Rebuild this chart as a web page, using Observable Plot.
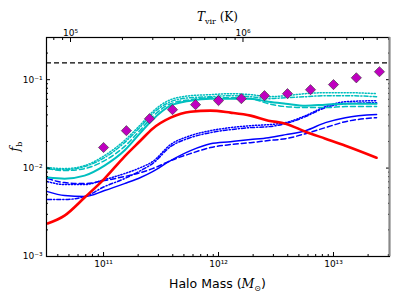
<!DOCTYPE html>
<html><head><meta charset="utf-8">
<script src="https://cdn.jsdelivr.net/npm/d3@7"></script>
<script src="https://cdn.jsdelivr.net/npm/@observablehq/plot@0.6"></script>
<style>html,body{margin:0;padding:0;background:#fff;} svg{display:block}</style>
</head><body><div id="chart"></div>
<script>
// Halo mass grid (Msun) shared by the model curves
const mass = [3.26e10, 4.58e10, 6.84e10, 1.02e11, 1.52e11, 2.10e11, 2.67e11, 3.83e11, 5.71e11, 8.51e11, 1.27e12, 1.90e12, 2.72e12, 3.83e12, 5.71e12, 8.51e12, 1.27e13, 2.37e13];

const redSolid   = [0.00236, 0.00290, 0.00464, 0.00760, 0.0135, 0.0205, 0.0279, 0.0372, 0.0434, 0.0447, 0.0424, 0.0392, 0.0344, 0.0318, 0.0258, 0.0215, 0.0179, 0.0131];

const cyanSolid   = [0.00782, 0.00760, 0.00822, 0.01067, 0.01578, 0.0252, 0.0353, 0.0508, 0.0579, 0.0610, 0.0610, 0.0610, 0.0563, 0.0535, 0.0508, 0.0522, 0.0535, 0.0535];
const cyanDashed  = [0.00986, 0.00937, 0.00986, 0.01216, 0.0175, 0.0272, 0.0382, 0.0535, 0.0594, 0.0626, 0.0626, 0.0610, 0.0535, 0.0496, 0.0483, 0.0483, 0.0496, 0.0496];
const cyanDotted  = [0.01013, 0.00986, 0.01067, 0.01384, 0.0205, 0.0310, 0.0434, 0.0594, 0.0659, 0.0677, 0.0695, 0.0677, 0.0642, 0.0659, 0.0695, 0.0713, 0.0713, 0.0695];
const cyanDashDot = [0.00986, 0.00961, 0.0104, 0.01315, 0.0194, 0.0294, 0.0413, 0.0563, 0.0626, 0.0642, 0.0659, 0.0642, 0.0610, 0.0626, 0.0642, 0.0659, 0.0659, 0.0642];

const blueSolid   = [0.00542, 0.00489, 0.00476, 0.00557, 0.00668, 0.00782, 0.00912, 0.01216, 0.01578, 0.0189, 0.0199, 0.0210, 0.0221, 0.0239, 0.0265, 0.0327, 0.0372, 0.0403];
const blueDashed  = [0.00760, 0.00685, 0.00668, 0.00723, 0.00802, 0.00889, 0.00986, 0.01216, 0.01459, 0.01706, 0.01845, 0.0194, 0.0205, 0.0215, 0.0245, 0.0287, 0.0335, 0.0372];
const blueDotted  = [0.00703, 0.00651, 0.00651, 0.00741, 0.00866, 0.01013, 0.01183, 0.01845, 0.0233, 0.0265, 0.0287, 0.0302, 0.0310, 0.0327, 0.0392, 0.0496, 0.0563, 0.0579];
const blueDashDot = [0.00441, 0.00441, 0.00476, 0.00618, 0.00760, 0.00937, 0.01125, 0.0175, 0.0221, 0.0252, 0.0272, 0.0287, 0.0294, 0.0318, 0.0382, 0.0483, 0.0535, 0.0549];

// Observed points (magenta diamonds)
const obsMass = [1.00e11, 1.58e11, 2.51e11, 3.98e11, 6.31e11, 1.00e12, 1.58e12, 2.51e12, 3.98e12, 6.31e12, 1.00e13, 1.58e13, 2.51e13];
const obsFb   = [0.0171, 0.0265, 0.0362, 0.0458, 0.0522, 0.058, 0.061, 0.066, 0.0695, 0.077, 0.088, 0.105, 0.123];

// cosmic baryon fraction
const fbCosmic = [0.155];

// Axis ranges and ticks
const xDomain = [3.19e10, 3.07e13];
const yDomain = [1e-3, 0.3];
const xMajor = [1e11, 1e12, 1e13];
const yMajor = [1e-3, 1e-2, 1e-1];
const tMajor = [1e5, 1e6];
const massAt1e5K = 5.16e10; // halo mass with T_vir = 1e5 K

const xMinor = [];
for (const d of [1e10, 1e11, 1e12, 1e13]) for (let k = 2; k <= 9; k++) { const v = k * d; if (v > xDomain[0] && v < xDomain[1] && !xMajor.includes(v)) xMinor.push(v); }
const yMinor = [];
for (const d of [1e-3, 1e-2, 1e-1]) for (let k = 2; k <= 9; k++) { const v = k * d; if (v < yDomain[1]) yMinor.push(v); }
const tToMass = t => massAt1e5K * Math.pow(t / 1e5, 1.5);
const tMinor = [];
for (const d of [1e4, 1e5, 1e6]) for (let k = 2; k <= 9; k++) { const m = tToMass(k * d); if (m > xDomain[0] && m < xDomain[1]) tMinor.push(m); }

const supMap = {"-":"⁻","0":"⁰","1":"¹","2":"²","3":"³","4":"⁴","5":"⁵","6":"⁶","7":"⁷","8":"⁸","9":"⁹"};
const pow10 = v => "10" + String(Math.round(Math.log10(v))).split("").map(c => supMap[c]).join("");

const rows = (ys) => mass.map((m, i) => ({m, f: ys[i]}));
const CYAN = "#00bfbf", BLUE = "#0000ff", RED = "#ff0000";
const series = [
  {ys: blueSolid,   stroke: BLUE, w: 1.5, dash: null},
  {ys: blueDashed,  stroke: BLUE, w: 1.5, dash: "5,3"},
  {ys: blueDotted,  stroke: BLUE, w: 1.5, dash: "1.2,1.8"},
  {ys: blueDashDot, stroke: BLUE, w: 1.5, dash: "4,2,1.2,2"},
  {ys: cyanDashed,  stroke: CYAN, w: 1.5, dash: "5,3"},
  {ys: cyanDotted,  stroke: CYAN, w: 1.5, dash: "1.2,1.8"},
  {ys: cyanDashDot, stroke: CYAN, w: 1.5, dash: "4,2,1.2,2"},
  {ys: cyanSolid,   stroke: CYAN, w: 2, dash: null},
  {ys: redSolid,    stroke: RED,  w: 2.6, dash: null}
];

const W = 399, H = 299, mL = 46, mR = 10, mT = 37, mB = 43;

const chart = Plot.plot({
  width: W, height: H,
  marginLeft: mL, marginRight: mR, marginTop: mT, marginBottom: mB,
  x: {type: "log", domain: xDomain},
  y: {type: "log", domain: yDomain},
  style: {fontFamily: "DejaVu Sans, sans-serif", fontSize: "9px", background: "white", color: "black"},
  marks: [
    Plot.ruleY(fbCosmic, {stroke: "black", strokeWidth: 1.4, strokeDasharray: "5,3"}),
    ...series.map(s => Plot.line(rows(s.ys), {x: "m", y: "f", stroke: s.stroke, strokeWidth: s.w, strokeDasharray: s.dash, curve: "monotone-x"})),
    Plot.dot(obsMass.map((m, i) => ({m, f: obsFb[i]})), {x: "m", y: "f", symbol: "diamond2", r: 4.6, fill: "#bf00bf", stroke: "#333", strokeWidth: 0.6}),
    // axes, ticks pointing inwards
    Plot.axisX(xMinor, {anchor: "bottom", tickSize: -2, tickFormat: () => "", label: null}),
    Plot.axisX(xMajor, {anchor: "bottom", tickSize: -4, tickPadding: 8, tickFormat: pow10, label: null}),
    Plot.axisX(tMinor, {anchor: "top", tickSize: -2, tickFormat: () => "", label: null}),
    Plot.axisX(tMajor.map(tToMass), {anchor: "top", tickSize: -4, tickFormat: () => "", label: null}),
    Plot.text(tMajor, {x: tToMass, text: pow10, frameAnchor: "top", dy: -8, fontSize: 9, fill: "black"}),
    Plot.axisY(yMinor, {anchor: "left", tickSize: -2, tickFormat: () => "", label: null}),
    Plot.axisY(yMajor, {anchor: "left", tickSize: -4, tickPadding: 8, tickFormat: pow10, label: null}),
    Plot.axisY(yMinor, {anchor: "right", tickSize: -2, tickFormat: () => "", label: null}),
    Plot.axisY(yMajor, {anchor: "right", tickSize: -4, tickFormat: () => "", label: null}),
    Plot.frame({stroke: "black", strokeWidth: 1.2}),
    Plot.ruleX([xDomain[1]], {stroke: "#888", strokeWidth: 2})
  ]
});
document.getElementById("chart").appendChild(chart);

// rich-text axis titles
const svg = d3.select(chart);
const cx = mL + (W - mL - mR) / 2;
const xt = svg.append("text").attr("x", cx).attr("y", H - 11).attr("text-anchor", "middle")
  .attr("font-family", "DejaVu Sans, sans-serif").attr("font-size", 12.5).attr("fill", "black");
xt.append("tspan").text("Halo Mass (");
xt.append("tspan").attr("font-family", "DejaVu Serif, serif").attr("font-style", "italic").text("M");
xt.append("tspan").attr("font-size", 8).attr("dy", 3).text("⊙");
xt.append("tspan").attr("dy", -3).text(")");

const tt = svg.append("text").attr("x", cx).attr("y", 21).attr("text-anchor", "middle")
  .attr("font-family", "DejaVu Serif, serif").attr("font-size", 12).attr("fill", "black");
tt.append("tspan").attr("font-style", "italic").text("T");
tt.append("tspan").attr("font-size", 8).attr("dy", 3).text("vir");
tt.append("tspan").attr("dy", -3).text(" (K)");

const cy = mT + (H - mT - mB) / 2;
const yt = svg.append("text").attr("transform", `translate(19,${cy}) rotate(-90)`).attr("text-anchor", "middle")
  .attr("font-family", "DejaVu Serif, serif").attr("font-size", 12.5).attr("fill", "black");
yt.append("tspan").attr("font-style", "italic").text("f");
yt.append("tspan").attr("font-size", 8).attr("dy", 3).text("b");
</script>
</body></html>
